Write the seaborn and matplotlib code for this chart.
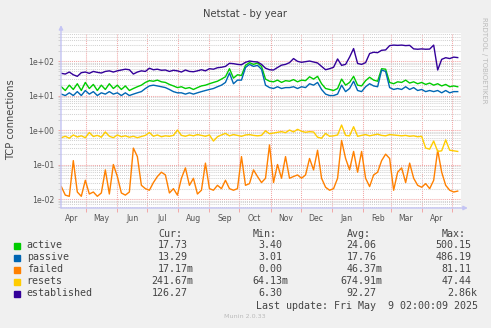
import matplotlib
matplotlib.use("Agg")
import matplotlib.pyplot as plt
import matplotlib.dates as mdates
import matplotlib.ticker as mticker
from matplotlib.patches import Rectangle
import pandas as pd
import seaborn as sns

# ---------------- data ----------------
start_date = "2024-04-06"
step_days = 4

active = [18, 14, 20, 15, 22, 14, 24, 16, 21, 14,
          20, 15, 22, 16, 20, 15, 19, 14, 16, 18,
          20, 24, 27, 26, 28, 25, 24, 21, 19, 17,
          18, 16, 17, 15, 17, 19, 20, 22, 24, 26,
          30, 35, 60, 32, 40, 38, 75, 90, 80, 88,
          70, 30, 26, 25, 28, 24, 27, 26, 29, 25,
          28, 27, 35, 30, 36, 22, 16, 15, 14, 16,
          30, 20, 24, 36, 20, 19, 27, 34, 28, 26,
          60, 58, 24, 22, 25, 24, 28, 23, 25, 22,
          24, 21, 23, 20, 22, 19, 21, 18, 19, 18]

passive = [11, 10, 12, 10, 13, 10, 14, 11, 13, 10,
           12, 11, 13, 11, 12, 10, 12, 10, 11, 12,
           13, 16, 19, 20, 19, 18, 17, 15, 13, 12,
           12, 11, 12, 11, 12, 13, 14, 15, 16, 18,
           20, 24, 45, 22, 28, 28, 65, 80, 70, 75,
           58, 20, 17, 16, 18, 16, 17, 17, 18, 16,
           18, 17, 22, 20, 24, 15, 11, 10, 10, 11,
           20, 13, 16, 26, 14, 13, 18, 22, 19, 18,
           55, 50, 17, 15, 16, 15, 18, 15, 17, 14,
           15, 13, 14, 13, 14, 12, 14, 12, 13, 13]

failed = [0.023, 0.013, 0.012, 0.13, 0.016, 0.012, 0.035, 0.014, 0.016, 0.012,
          0.015, 0.07, 0.014, 0.10, 0.045, 0.015, 0.013, 0.016, 0.30, 0.17,
          0.025, 0.02, 0.018, 0.03, 0.045, 0.06, 0.05, 0.015, 0.02, 0.013,
          0.04, 0.08, 0.025, 0.04, 0.014, 0.018, 0.11, 0.02, 0.018, 0.025,
          0.02, 0.035, 0.02, 0.018, 0.02, 0.17, 0.025, 0.028, 0.07, 0.045,
          0.03, 0.04, 0.37, 0.03, 0.10, 0.04, 0.17, 0.04, 0.045, 0.05,
          0.04, 0.05, 0.15, 0.07, 0.26, 0.04, 0.022, 0.018, 0.02, 0.04,
          0.50, 0.15, 0.07, 0.24, 0.06, 0.24, 0.04, 0.023, 0.05, 0.06,
          0.13, 0.20, 0.15, 0.018, 0.06, 0.08, 0.03, 0.11, 0.04, 0.025,
          0.022, 0.028, 0.02, 0.035, 0.26, 0.06, 0.025, 0.018, 0.016, 0.017]

resets = [0.60, 0.66, 0.58, 0.72, 0.63, 0.68, 0.60, 0.85, 0.65, 0.70,
          0.62, 0.88, 0.66, 0.60, 0.72, 0.64, 0.68, 0.62, 0.66, 0.60,
          0.65, 0.70, 0.85, 0.66, 0.72, 0.64, 0.68, 0.66, 0.70, 1.00,
          0.70, 0.66, 0.72, 0.68, 0.74, 0.70, 0.66, 0.72, 0.48, 0.64,
          0.72, 0.80, 0.68, 0.74, 0.70, 0.66, 0.72, 0.74, 0.70, 0.68,
          0.70, 0.95, 0.78, 0.82, 0.86, 0.90, 0.84, 1.00, 0.88, 1.05,
          0.92, 0.86, 0.90, 0.88, 0.62, 0.58, 0.80, 0.66, 0.68, 0.72,
          1.40, 0.70, 0.68, 1.25, 0.66, 0.70, 0.74, 0.68, 0.72, 0.76,
          0.70, 0.68, 0.74, 0.72, 0.70, 0.68, 0.70, 0.66, 0.68, 0.64,
          0.66, 0.30, 0.28, 0.48, 0.24, 0.25, 0.52, 0.26, 0.25, 0.24]

established = [44, 42, 48, 40, 36, 46, 48, 44, 50, 47,
               45, 50, 52, 48, 52, 55, 58, 56, 42, 48,
               52, 50, 62, 56, 58, 54, 55, 50, 54, 52,
               48, 55, 50, 49, 52, 56, 52, 60, 58, 64,
               66, 70, 86, 84, 80, 78, 92, 100, 96, 94,
               80, 62, 56, 55, 65, 76, 80, 90, 118, 98,
               92, 96, 100, 94, 88, 70, 56, 60, 66, 115,
               75, 80, 130, 230, 85, 80, 90, 165, 180, 175,
               205, 210, 280, 290, 285, 290, 280, 285, 225, 220,
               225, 220, 222, 290, 55, 112, 125, 118, 130, 126]

series_names = ["active", "passive", "failed", "resets", "established"]
series_colors = ["#00CC00", "#0066B3", "#FF8000", "#FFCC00", "#330099"]

month_labels = ["Apr", "May", "Jun", "Jul", "Aug", "Sep", "Oct",
                "Nov", "Dec", "Jan", "Feb", "Mar", "Apr"]
ytick_values = [1e-2, 1e-1, 1e0, 1e1, 1e2]
ytick_labels = ["1e-02", "1e-01", "1e+00", "1e+01", "1e+02"]

cur_vals = ["17.73", "13.29", "17.17m", "241.67m", "126.27"]
min_vals = ["3.40", "3.01", "0.00", "64.13m", "6.30"]
avg_vals = ["24.06", "17.76", "46.37m", "674.91m", "92.27"]
max_vals = ["500.15", "486.19", "81.11", "47.44", "2.86k"]

title = "Netstat - by year"
ylabel = "TCP connections"
last_update = "Last update: Fri May  9 02:00:09 2025"

# ---------------- build table ----------------
dates = pd.date_range(start_date, periods=len(active), freq=f"{step_days}D")
frames = []
for name, vals in zip(series_names, [active, passive, failed, resets, established]):
    frames.append(pd.DataFrame({"date": dates, "value": vals, "series": name}))
df = pd.concat(frames, ignore_index=True)

# ---------------- figure ----------------
W, H = 491, 328
fig = plt.figure(figsize=(W / 100, H / 100), dpi=100, facecolor="#F0F0F0")

def fx(px):
    return px / W

def fy(py):
    return 1 - py / H

ax = fig.add_axes([fx(61), fy(208), fx(400), 175 / H])
ax.set_facecolor("white")

major_grid = "#F2A6A6"
minor_grid = "#D2D2D2"
axis_col = "#C4C4F4"
dots = (0, (1, 1))

sns.lineplot(data=df, x="date", y="value", hue="series", hue_order=series_names,
             palette=dict(zip(series_names, series_colors)), estimator=None,
             linewidth=1.0, legend=False, ax=ax, zorder=5)

ax.set_yscale("log")
ax.set_ylim(0.0055, 650)
ax.set_xlim(pd.Timestamp("2024-04-05 17:00"), pd.Timestamp("2025-05-10 07:00"))

# y ticks
ax.yaxis.set_major_locator(mticker.FixedLocator(ytick_values))
ax.yaxis.set_major_formatter(mticker.FixedFormatter(ytick_labels))
ax.yaxis.set_minor_locator(mticker.LogLocator(base=10, subs=range(2, 10), numticks=20))
ax.yaxis.set_minor_formatter(mticker.NullFormatter())

# x ticks: gridlines at month starts, labels at mid-month
month_starts = pd.date_range("2024-05-01", "2025-05-01", freq="MS")
mid_months = pd.date_range("2024-04-01", "2025-04-01", freq="MS") + pd.Timedelta(days=15)
ax.xaxis.set_major_locator(mticker.FixedLocator(mdates.date2num(month_starts)))
ax.xaxis.set_major_formatter(mticker.NullFormatter())
ax.xaxis.set_minor_locator(mticker.FixedLocator(mdates.date2num(mid_months)))
ax.xaxis.set_minor_formatter(mticker.FixedFormatter(month_labels))

ax.grid(which="major", axis="both", color=major_grid, linestyle=dots, linewidth=0.75, zorder=1)
ax.grid(which="minor", axis="y", color=minor_grid, linestyle=dots, linewidth=0.75, zorder=0)
ax.grid(which="minor", axis="x", visible=False)

ax.tick_params(axis="y", which="major", length=2.5, width=0.7, color=major_grid,
               labelsize=5.6, labelcolor="#555555", pad=2.5)
ax.tick_params(axis="y", which="minor", length=2.5, width=0.7, color=minor_grid)
ax.tick_params(axis="x", which="major", length=3, width=0.7, color=major_grid)
ax.tick_params(axis="x", which="minor", length=0, labelsize=5.6,
               labelcolor="#555555", pad=4.5)
for lab in ax.get_yticklabels():
    lab.set_fontfamily("DejaVu Sans")

ax.set_xlabel("")
ax.set_ylabel("")
for s in ax.spines.values():
    s.set_visible(False)

# axis lines with arrows (rrdtool style)
ax.annotate("", xy=(0, 1.045), xytext=(0, 0), xycoords="axes fraction",
            arrowprops=dict(arrowstyle="-|>", color=axis_col, lw=1.0,
                            mutation_scale=6, shrinkA=0, shrinkB=0),
            annotation_clip=False, zorder=10)
ax.annotate("", xy=(1.017, 0), xytext=(0, 0), xycoords="axes fraction",
            arrowprops=dict(arrowstyle="-|>", color=axis_col, lw=1.0,
                            mutation_scale=6, shrinkA=0, shrinkB=0),
            annotation_clip=False, zorder=10)

# ---------------- texts ----------------
fig.text(fx(245), fy(14), title, ha="center", va="center", fontsize=7.2,
         color="#444444", family="DejaVu Sans")
fig.text(fx(11), fy(120), ylabel, ha="center", va="center", rotation=90,
         fontsize=7.1, color="#444444", family="DejaVu Sans")
fig.text(fx(484), fy(17), "RRDTOOL / TOBIOETIKER", ha="center", va="top",
         rotation=270, fontsize=5.0, color="#BBBBBB", family="DejaVu Sans")

mono = dict(family="DejaVu Sans Mono", fontsize=7.18, color="#444444", va="center")
cw = 6.0  # character width in px

fig.text(fx(158), fy(233.7), "Cur:", ha="left", **mono)
fig.text(fx(252.7), fy(233.7), "Min:", ha="left", **mono)
fig.text(fx(346.7), fy(233.7), "Avg:", ha="left", **mono)
fig.text(fx(441.7), fy(233.7), "Max:", ha="left", **mono)

col_ends = [193.7, 288.7, 382.7, 477.7]
row_y = [245.5, 257.5, 269.5, 281.5, 293.5]
for k, name in enumerate(series_names):
    y = row_y[k]
    fig.patches.append(Rectangle((fx(14), fy(y + 3)), fx(6), 6 / H,
                                 transform=fig.transFigure, color=series_colors[k],
                                 figure=fig))
    fig.text(fx(26.7), fy(y), name, ha="left", **mono)
    for col, vals in enumerate([cur_vals, min_vals, avg_vals, max_vals]):
        s = vals[k]
        end = col_ends[col] if s[-1].isalpha() else col_ends[col] - cw
        start = end - len(s) * cw
        fig.text(fx(start), fy(y), s, ha="left", **mono)

fig.text(fx(255.7), fy(305.8), last_update, ha="left", **mono)
fig.text(fx(245), fy(316.3), "Munin 2.0.33", ha="center", va="center",
         fontsize=4.6, color="#BBBBBB", family="DejaVu Sans")

fig.savefig("out.png", dpi=100, facecolor=fig.get_facecolor())
